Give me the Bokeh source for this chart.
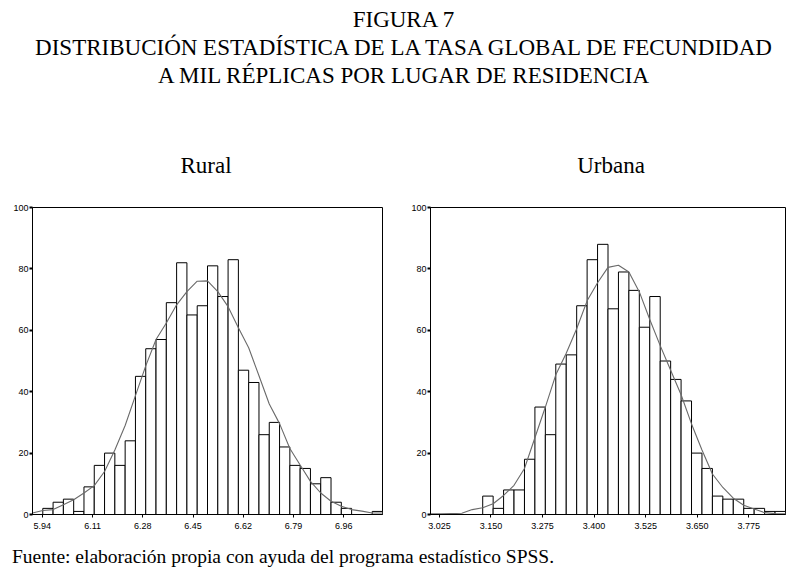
from bokeh.plotting import figure
from bokeh.models import Range1d, FixedTicker, Div, NumeralTickFormatter, ColumnDataSource
from bokeh.layouts import column, row
from bokeh.embed import file_html
from bokeh.resources import INLINE

# ---------------- data ----------------
title_lines = ["FIGURA 7",
               "DISTRIBUCIÓN ESTADÍSTICA DE LA TASA GLOBAL DE FECUNDIDAD",
               "A MIL RÉPLICAS POR LUGAR DE RESIDENCIA"]
panel_titles = ["Rural", "Urbana"]
footer_text = "Fuente: elaboración propia con ayuda del programa estadístico SPSS."

rural_bin_start = 5.9066
rural_bin_width = 0.03485
rural_counts = [0, 2, 4, 5, 1, 9, 16, 20, 16, 24, 45, 54, 57, 69, 82, 65, 68,
                81, 71, 83, 47, 43, 26, 30, 22, 16, 15, 10, 12, 4, 2, 0, 0, 1]
rural_curve = [0.5, 1.3, 1.6, 3.2, 4.8, 7.0, 9.4, 14.0, 21.0, 29.0, 38.7, 48.4,
               57.0, 62.4, 68.3, 72.6, 76.0, 76.1, 72.6, 67.7, 60.8, 54.3, 45.2,
               36.0, 29.6, 21.5, 16.1, 10.8, 7.0, 4.3, 2.7, 1.6, 1.1, 0.5, 0.5]
rural_ticks = [5.94, 6.11, 6.28, 6.45, 6.62, 6.79, 6.96]

urban_bin_start = 3.0034
urban_bin_width = 0.02531
urban_counts = [0, 0, 0, 0, 0, 6, 2, 8, 8, 18, 35, 26, 49, 52, 68, 83, 88,
                67, 79, 73, 61, 71, 50, 44, 37, 20, 15, 6, 5, 5, 2, 2, 1, 1]
urban_curve = [0.2, 0.2, 0.3, 0.4, 1.6, 2.2, 3.5, 6.2, 9.5, 15.0, 25.0, 35.0,
               45.5, 52.5, 60.5, 69.6, 75.5, 80.5, 81.2, 79.0, 72.5, 63.5, 55.0,
               47.0, 39.0, 29.5, 21.0, 13.2, 8.8, 5.3, 3.0, 1.8, 0.6, 0.3, 0.2]
urban_ticks = [3.025, 3.150, 3.275, 3.400, 3.525, 3.650, 3.775]

y_ticks = [0, 20, 40, 60, 80, 100]


def make_hist(counts, start, width, curve, ticks, fmt, w, h, bl, br, bt, bb):
    n = len(counts)
    lefts = [start + i * width for i in range(n)]
    rights = [start + (i + 1) * width for i in range(n)]
    edges = [start + i * width for i in range(n + 1)]
    p = figure(width=w, height=h, output_backend="svg", toolbar_location=None,
               x_range=Range1d(start, start + n * width), y_range=Range1d(0, 100),
               min_border_left=bl, min_border_right=br, min_border_top=bt,
               min_border_bottom=bb, background_fill_color="white",
               border_fill_color="white")
    p.grid.visible = False
    p.outline_line_color = "black"
    p.outline_line_width = 1
    src = ColumnDataSource(dict(left=lefts, right=rights, top=counts))
    p.quad(left="left", right="right", top="top", bottom=0, source=src,
           fill_color="white", line_color="black", line_width=1)
    p.line(edges, curve, line_color="#6a6a6a", line_width=1.1)

    p.xaxis.ticker = FixedTicker(ticks=ticks)
    p.xaxis.formatter = NumeralTickFormatter(format=fmt)
    p.yaxis.ticker = FixedTicker(ticks=y_ticks)
    for ax in (p.xaxis[0], p.yaxis[0]):
        ax.axis_line_color = "black"
        ax.axis_line_width = 1
        ax.major_tick_line_color = "black"
        ax.major_tick_in = 0
        ax.major_tick_out = 3
        ax.minor_tick_line_color = None
        ax.major_label_text_font = "Liberation Sans"
        ax.major_label_text_font_size = "9px"
        ax.major_label_text_color = "black"
    p.yaxis.major_tick_line_width = 2
    p.yaxis.major_label_standoff = 1
    p.xaxis.major_label_standoff = 5
    return p


p1 = make_hist(rural_counts, rural_bin_start, rural_bin_width, rural_curve,
               rural_ticks, "0.00", 395, 342, 32, 13, 8, 25)
p2 = make_hist(urban_counts, urban_bin_start, urban_bin_width, urban_curve,
               urban_ticks, "0.000", 404, 342, 35, 14, 9, 26)

serif = "'Liberation Serif', 'Times New Roman', serif"
line_tops = [8, 36, 64]
parts = []
for txt, top in zip(title_lines, line_tops):
    parts.append(
        f'<div style="position:absolute;left:0;top:{top}px;width:807px;text-align:center;'
        f'font-size:23px;line-height:23px;white-space:nowrap;">{txt}</div>')
for txt, cx in zip(panel_titles, [206, 611]):
    parts.append(
        f'<div style="position:absolute;left:{cx - 100}px;top:154px;width:200px;text-align:center;'
        f'font-size:23px;line-height:23px;white-space:nowrap;">{txt}</div>')
header_html = (f'<div style="position:relative;width:807px;height:198px;font-family:{serif};'
               f'color:#000;">' + "".join(parts) + '</div>')
header = Div(text=header_html, width=807, height=198, margin=0)

footer_html = (f'<div style="position:relative;width:807px;height:30px;font-family:{serif};color:#000;">'
               f'<div style="position:absolute;left:12px;top:7px;font-size:19.5px;line-height:19.5px;'
               f'white-space:nowrap;">{footer_text}</div></div>')
footer = Div(text=footer_html, width=807, height=30, margin=0)

layout = column(header, row(p1, p2, spacing=0), footer, spacing=0)

open("out.html", "w").write(file_html(layout, INLINE))
